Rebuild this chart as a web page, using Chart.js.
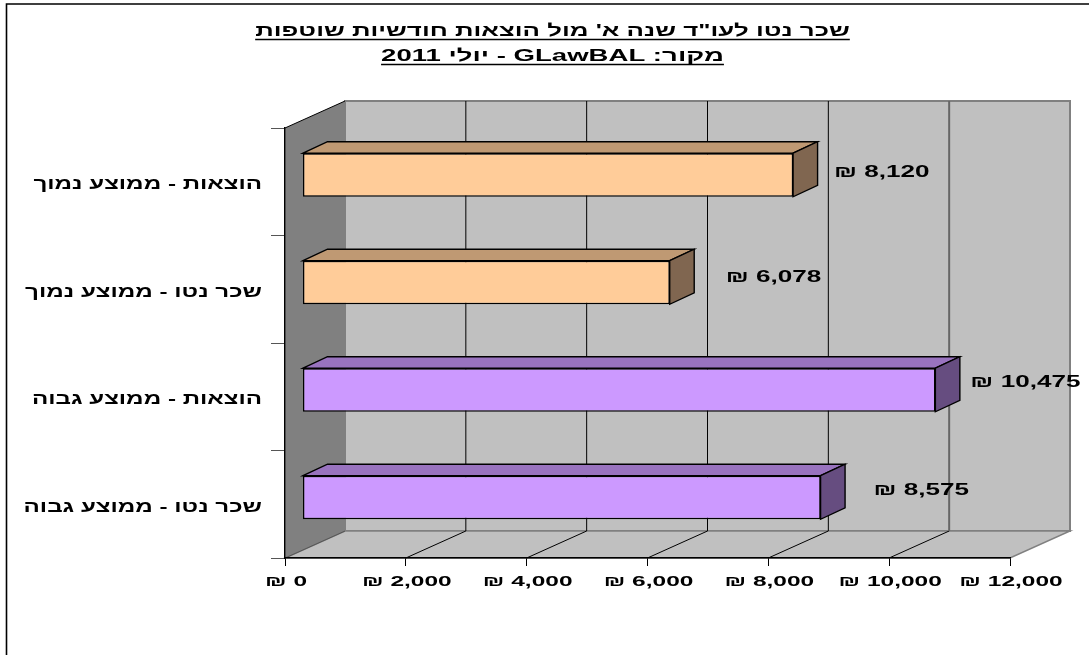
<!DOCTYPE html>
<html lang="he">
<head>
<meta charset="utf-8">
<title>שכר נטו מול הוצאות</title>
<script src="https://cdn.jsdelivr.net/npm/chart.js@4"></script>
<style>
  html, body { margin: 0; padding: 0; background: #fff; }
  canvas { display: block; }
</style>
</head>
<body>
<canvas id="mychart" width="1089" height="655"></canvas>
<script>
const categories = [
  'הוצאות - ממוצע נמוך',
  'שכר נטו - ממוצע נמוך',
  'הוצאות - ממוצע גבוה',
  'שכר נטו - ממוצע גבוה'
];
const amounts = [8120, 6078, 10475, 8575];
const titleLines = [
  'שכר נטו לעו"ד שנה א\' מול הוצאות חודשיות שוטפות',
  'מקור: GLawBAL - יולי 2011'
];
const frontColors = ['#ffcc99', '#ffcc99', '#cc99ff', '#cc99ff'];
const topColors = ['#bf9973', '#bf9973', '#9973bf', '#9973bf'];
const sideColors = ['#806650', '#806650', '#664d80', '#664d80'];

// where each amount label sits, relative to the bar end and bar centre
const labelNudgeX = [41, 56, 35, 53];
const labelNudgeY = [-3, -5, -8, -7];
const titleStretch = [1.52, 1.62];

// depth of the box the bars stand in, and of the bars themselves
const WALL_DX = 60, WALL_DY = -27;
const BAR_SHIFT_X = 17.5, BAR_SHIFT_Y = -6.75;
const CAP_DX = 24.5, CAP_DY = -11.5;

const FONT = '"Liberation Sans", Arial, sans-serif';
const money = v => '₪ ' + v.toLocaleString('en-US');

// bold text widened on the x axis, x is the anchor for the given align
const wideText = (ctx, text, x, y, align, size, stretch, rtl) => {
  ctx.save();
  ctx.font = 'bold ' + size + 'px ' + FONT;
  ctx.direction = rtl ? 'rtl' : 'ltr';
  ctx.textBaseline = 'middle';
  ctx.textAlign = 'left';
  const w = ctx.measureText(text).width * stretch;
  const left = align === 'right' ? x - w : align === 'center' ? x - w / 2 : x;
  ctx.translate(left, y);
  ctx.scale(stretch, 1);
  ctx.textAlign = rtl ? 'right' : 'left';
  ctx.fillStyle = '#000';
  ctx.fillText(text, rtl ? w / stretch : 0, 0);
  ctx.restore();
  return { left: left, width: w };
};

const poly = (ctx, pts, fill, stroke, lw) => {
  ctx.beginPath();
  pts.forEach((p, i) => i ? ctx.lineTo(p[0], p[1]) : ctx.moveTo(p[0], p[1]));
  ctx.closePath();
  if (fill) { ctx.fillStyle = fill; ctx.fill(); }
  if (stroke) { ctx.strokeStyle = stroke; ctx.lineWidth = lw; ctx.stroke(); }
};

const segment = (ctx, x1, y1, x2, y2, color, lw) => {
  ctx.beginPath();
  ctx.moveTo(x1, y1);
  ctx.lineTo(x2, y2);
  ctx.strokeStyle = color;
  ctx.lineWidth = lw;
  ctx.stroke();
};

const boxWalls = {
  id: 'boxWalls',
  beforeDraw(chart) {
    const ctx = chart.ctx, x = chart.scales.x, y = chart.scales.y;
    const l = x.left, r = x.right, t = y.top, b = y.bottom;
    const dx = WALL_DX, dy = WALL_DY;
    ctx.save();
    ctx.fillStyle = '#fff';
    ctx.fillRect(0, 0, chart.width, chart.height);

    // page frame: only the top and left edges are on the page
    ctx.beginPath();
    ctx.moveTo(6.5, chart.height);
    ctx.lineTo(6.5, 4);
    ctx.lineTo(chart.width, 4);
    ctx.strokeStyle = '#000';
    ctx.lineWidth = 1.6;
    ctx.stroke();

    poly(ctx, [[l + dx, t + dy], [r + dx, t + dy], [r + dx, b + dy], [l + dx, b + dy]], '#c0c0c0', '#808080', 2);
    poly(ctx, [[l, b], [r, b], [r + dx, b + dy], [l + dx, b + dy]], '#c0c0c0', '#808080', 1.5);
    poly(ctx, [[l, t], [l + dx, t + dy], [l + dx, b + dy], [l, b]], '#808080');
    segment(ctx, l, t, l + dx, t + dy, '#000', 1);
    segment(ctx, l, b, l + dx, b + dy, '#555', 1);

    // grid lines run along the floor and up the back wall
    x.ticks.forEach(tick => {
      if (tick.value === 0 || tick.value === x.max) return;
      const px = x.getPixelForValue(tick.value);
      const strong = tick.value === 10000;
      segment(ctx, px, b, px + dx, b + dy, '#000', 1);
      segment(ctx, px + dx, b + dy, px + dx, t + dy, strong ? '#666' : '#000', strong ? 2 : 1);
    });
    ctx.restore();
  }
};

const barDepth = {
  id: 'barDepth',
  beforeDatasetsDraw(chart) {
    const ctx = chart.ctx;
    ctx.save();
    ctx.translate(BAR_SHIFT_X, BAR_SHIFT_Y);
    chart.getDatasetMeta(0).data.forEach((bar, i) => {
      const top = bar.y - bar.height / 2, bottom = bar.y + bar.height / 2;
      const left = bar.base, right = bar.x;
      const dx = CAP_DX, dy = CAP_DY;
      poly(ctx, [[left, top], [left + dx, top + dy], [right + dx, top + dy], [right, top]], topColors[i], '#000', 1.4);
      poly(ctx, [[right, top], [right + dx, top + dy], [right + dx, bottom + dy], [right, bottom]], sideColors[i], '#000', 1.4);
    });
  },
  afterDatasetsDraw(chart) {
    chart.ctx.restore();
  }
};

const chartText = {
  id: 'chartText',
  afterDraw(chart) {
    const ctx = chart.ctx, x = chart.scales.x, y = chart.scales.y;

    titleLines.forEach((line, i) => {
      const baseY = 31 + i * 25;
      const box = wideText(ctx, line, 552.5, baseY, 'center', 17, titleStretch[i], true);
      segment(ctx, box.left, baseY + 8.5, box.left + box.width, baseY + 8.5, '#000', 1.6);
    });

    categories.forEach((name, i) => {
      wideText(ctx, name, 262, y.getPixelForValue(i) + 3, 'right', 17, 1.42, true);
    });

    x.ticks.forEach(tick => {
      wideText(ctx, money(tick.value), x.getPixelForValue(tick.value) + 1, 581.5, 'center', 15.5, 1.58, false);
    });

    chart.getDatasetMeta(0).data.forEach((bar, i) => {
      wideText(ctx, money(amounts[i]), bar.x + BAR_SHIFT_X + labelNudgeX[i], bar.y + BAR_SHIFT_Y + labelNudgeY[i], 'left', 16.5, 1.58, false);
    });
  }
};

const ctx = document.getElementById('mychart').getContext('2d');
const mychart = new Chart(ctx, {
  type: 'bar',
  data: {
    labels: categories,
    datasets: [{
      data: amounts,
      backgroundColor: frontColors,
      borderColor: '#000',
      borderWidth: 1.4,
      borderSkipped: false,
      barPercentage: 0.405,
      categoryPercentage: 1
    }]
  },
  options: {
    indexAxis: 'y',
    responsive: false,
    animation: false,
    layout: { padding: { top: 128, right: 79, left: 0, bottom: 0 } },
    plugins: { legend: { display: false }, tooltip: { enabled: false } },
    scales: {
      x: {
        min: 0,
        max: 12000,
        ticks: { display: false, stepSize: 2000 },
        grid: { drawOnChartArea: false, drawTicks: true, tickLength: 8, color: '#000', lineWidth: 1 },
        border: { display: true, color: '#000', width: 1.4 },
        afterFit: s => { s.height = 97; }
      },
      y: {
        ticks: { display: false },
        grid: { drawOnChartArea: false, drawTicks: true, tickLength: 14, color: '#555', lineWidth: 1 },
        border: { display: true, color: '#000', width: 1.4 },
        afterFit: s => { s.width = 285; }
      }
    }
  },
  plugins: [boxWalls, barDepth, chartText]
});
</script>
</body>
</html>
